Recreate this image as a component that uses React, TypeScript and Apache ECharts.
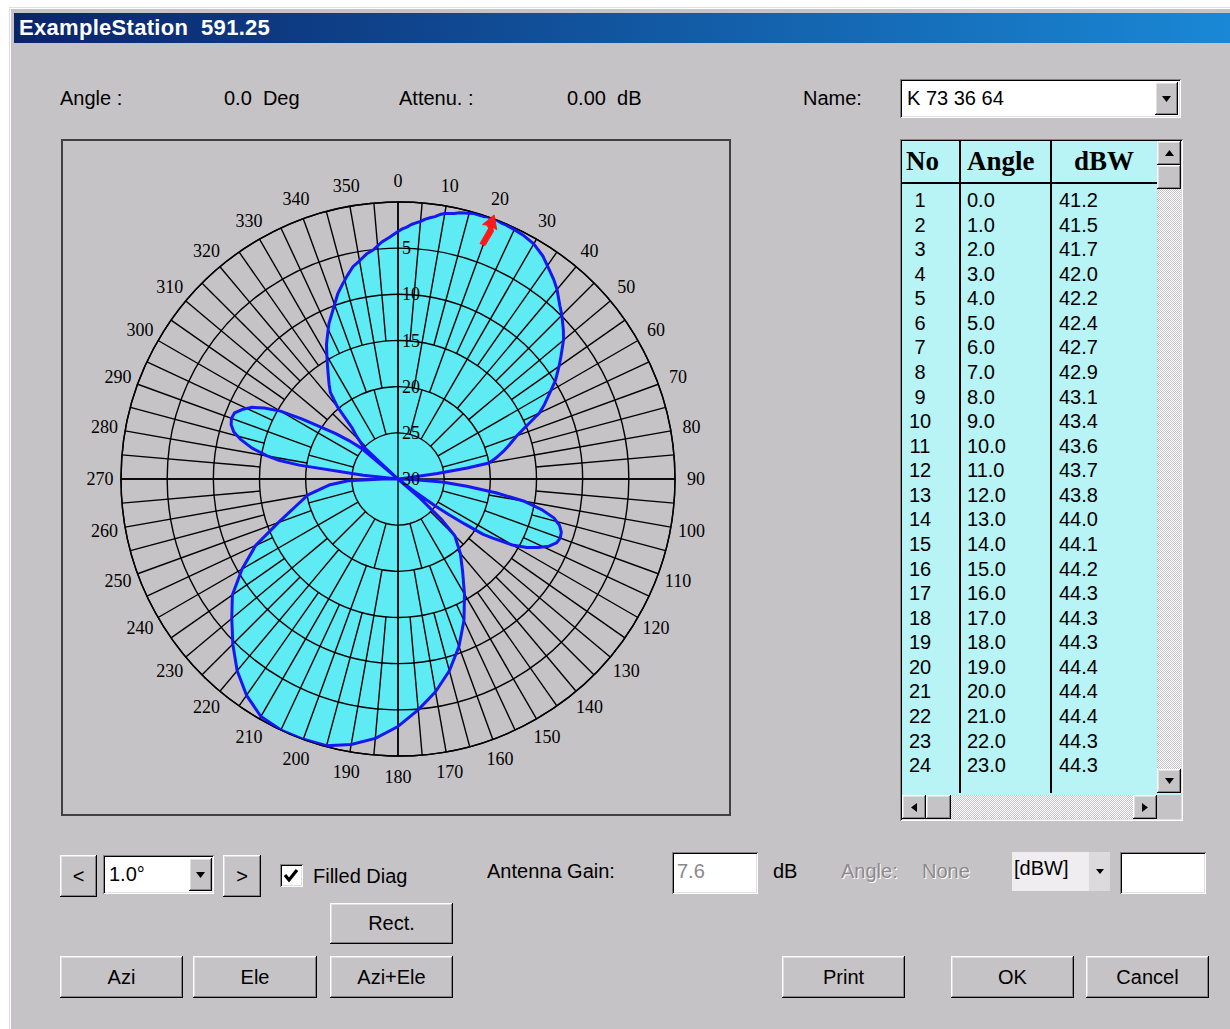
import React, { useEffect, useRef } from 'react';
import * as echarts from 'echarts';

// ---------------- data ----------------
const titleText = 'ExampleStation  591.25';

// antenna pattern: attenuation (dB) versus azimuth (deg)
const patternAngles = [
  0, 1, 2, 3, 4, 5, 6, 7, 8, 9, 10, 11, 12, 13, 14, 15, 16, 17, 18, 19, 20, 21, 22, 23,
  25, 27, 30, 33, 35, 38, 40, 43, 45, 48,
  50, 53, 55, 58, 60, 63, 65, 68, 70, 73,
  75, 78, 80, 81, 82, 83, 84, 90, 92, 94,
  96, 98, 100, 102, 104, 106, 108, 110, 112, 114,
  116, 118, 120, 122, 123, 124, 125, 126, 127, 128,
  129, 131, 133, 135, 140, 145, 150, 155, 160, 165,
  170, 175, 180, 185, 190, 195, 200, 205, 210, 215,
  220, 225, 230, 235, 240, 245, 250, 255, 260, 265,
  268, 270, 271, 274, 276, 278, 279, 280, 282, 284,
  286, 288, 290, 292, 294, 296, 298, 300, 302, 304,
  306, 308, 310, 311, 312, 313, 316, 318, 320, 322,
  324, 326, 328, 330, 332, 334, 336, 338, 340, 342,
  344, 346, 348, 350, 352, 354, 356, 358, 360,
];
const patternAtten = [
  3.2, 2.9, 2.7, 2.4, 2.2, 2.0, 1.7, 1.5, 1.3, 1.0, 0.8, 0.7, 0.6, 0.4, 0.3, 0.2, 0.1, 0.1, 0.1, 0.0, 0.0, 0.0, 0.1, 0.1,
  0.2, 0.3, 0.6, 1.2, 1.8, 2.6, 3.2, 4.3, 4.9, 5.9,
  6.6, 7.9, 8.7, 9.9, 10.9, 12.2, 13.1, 15.2, 16.3, 17.4,
  18.1, 19.2, 20.0, 22.4, 25.7, 28.9, 30, 30, 28.5, 25.2,
  22.5, 19.3, 16.1, 14.1, 12.6, 11.8, 11.4, 11.3, 11.5, 12.1,
  13.1, 14.2, 15.7, 17.9, 19.0, 21.3, 23.3, 25.1, 27.8, 30,
  30, 26.8, 23.5, 21.3, 19.5, 17.8, 15.6, 13.1, 10.7, 8.5,
  6.6, 4.9, 3.2, 1.8, 0.8, 0.1, 0.0, 0.0, 0.3, 1.4,
  2.9, 4.7, 6.5, 8.1, 10.5, 13.0, 16.2, 18.5, 20.1, 22.5,
  24.6, 28.4, 30, 30, 26.2, 19.2, 16.8, 15.6, 13.8, 12.5,
  11.5, 11.0, 10.8, 10.9, 11.5, 12.3, 13.6, 15.3, 17.7, 20.0,
  21.6, 23.2, 24.8, 30, 30, 24.9, 23.5, 22.6, 19.8, 18.1,
  17.3, 16.5, 15.6, 14.6, 13.5, 12.6, 11.6, 10.8, 9.9, 8.9,
  8.1, 7.3, 6.5, 6.0, 5.4, 5.0, 4.3, 3.8, 3.2,
];

const radiusMax = 30;
const radiusStep = 5;
const radiusLabelValues = [5, 10, 15, 20, 25, 30];
const angleLabelValues = [0, 10, 20, 30, 40, 50, 60, 70, 80, 90, 100, 110, 120, 130, 140, 150, 160, 170, 180, 190, 200, 210, 220, 230, 240, 250, 260, 270, 280, 290, 300, 310, 320, 330, 340, 350];
const maxGainAngle = 20;
const arrowTailAtten = 3.0;

// grid spokes: bands of attenuation with their angular spacing
const spokeBandOuter = [0, 15, 20];
const spokeBandInner = [15, 20, 25];
const spokeBandStep = [5, 10, 15];
const mainAxesAngles = [0, 90, 180, 270];

// table
const tableAngles = [0, 1, 2, 3, 4, 5, 6, 7, 8, 9, 10, 11, 12, 13, 14, 15, 16, 17, 18, 19, 20, 21, 22, 23];
const tableDbw = [41.2, 41.5, 41.7, 42.0, 42.2, 42.4, 42.7, 42.9, 43.1, 43.4, 43.6, 43.7, 43.8, 44.0, 44.1, 44.2, 44.3, 44.3, 44.3, 44.4, 44.4, 44.4, 44.3, 44.3];

// ---------------- styles ----------------
const BG = '#c6c3c6';
const UI = '"Liberation Sans", Arial, Helvetica, sans-serif';
const SERIF = '"Liberation Serif", "Times New Roman", serif';

const raisedShadow = 'inset -1px -1px #000, inset 1px 1px #fff, inset -2px -2px #848284, inset 2px 2px #dfdfdf';
const sunkenShadow = 'inset 1px 1px #848284, inset -1px -1px #fff, inset 2px 2px #000, inset -2px -2px #dfdfdf';

function Raised({ x, y, w, h, children, style }: any) {
  return (
    <div style={{ position: 'absolute', left: x, top: y, width: w, height: h, background: BG, boxShadow: raisedShadow, boxSizing: 'border-box', display: 'flex', alignItems: 'center', justifyContent: 'center', fontSize: 20, color: '#000', ...style }}>
      {children}
    </div>
  );
}

function Sunken({ x, y, w, h, children, style }: any) {
  return (
    <div style={{ position: 'absolute', left: x, top: y, width: w, height: h, background: '#fff', boxShadow: sunkenShadow, boxSizing: 'border-box', ...style }}>
      {children}
    </div>
  );
}

function Label({ x, y, text, style }: any) {
  return (
    <div style={{ position: 'absolute', left: x, top: y - 13, height: 26, lineHeight: '26px', fontSize: 20, whiteSpace: 'pre', color: '#000', ...style }}>{text}</div>
  );
}

function Tri({ dir = 'down', size = 9 }: any) {
  const h = Math.round(size / 2) + 1;
  if (dir === 'left' || dir === 'right') {
    const p = dir === 'left' ? `${h},0 ${h},${size} 0,${size / 2}` : `0,0 0,${size} ${h},${size / 2}`;
    return <svg width={h} height={size}><polygon points={p} fill="#000" /></svg>;
  }
  const p = dir === 'down' ? `0,0 ${size},0 ${size / 2},${h}` : `0,${h} ${size},${h} ${size / 2},0`;
  return <svg width={size} height={h}><polygon points={p} fill="#000" /></svg>;
}

// ---------------- chart ----------------
function PolarChart() {
  const ref = useRef<HTMLDivElement>(null);
  useEffect(() => {
    const chart = echarts.init(ref.current!, null, { renderer: 'svg' });
    const patternData = patternAngles.map((a, i) => [patternAtten[i], a]);

    const spokeData: number[][] = [];
    spokeBandStep.forEach((step, b) => {
      for (let a = 0; a < 360; a += step) spokeData.push([spokeBandOuter[b], a, spokeBandInner[b]]);
    });
    mainAxesAngles.forEach((a) => spokeData.push([0, a, radiusMax]));

    const option: any = {
      animation: false,
      backgroundColor: 'transparent',
      polar: { center: [398, 479], radius: 277 },
      angleAxis: {
        type: 'value', min: 0, max: 360, interval: 10, startAngle: 90, clockwise: true, z: 3,
        axisLine: { show: true, lineStyle: { color: '#000', width: 1.4 } },
        axisTick: { show: false },
        splitLine: { show: false },
        axisLabel: { show: false },
      },
      radiusAxis: {
        type: 'value', min: 0, max: radiusMax, interval: radiusStep, inverse: true, z: 3,
        axisLine: { show: false }, axisTick: { show: false }, axisLabel: { show: false },
        splitLine: { show: true, lineStyle: { color: '#000', width: 1.4 } },
      },
      series: [
        {
          type: 'line', coordinateSystem: 'polar', data: patternData, symbol: 'none', clip: false, silent: true, z: 1,
          lineStyle: { width: 0, opacity: 0 },
          areaStyle: { color: '#5eebf3', opacity: 1, origin: 'end' },
        },
        {
          type: 'custom', coordinateSystem: 'polar', data: spokeData, silent: true, z: 3,
          renderItem: (params: any, api: any) => {
            const p1 = api.coord([api.value(0), api.value(1)]);
            const p2 = api.coord([api.value(2), api.value(1)]);
            return { type: 'line', shape: { x1: p1[0], y1: p1[1], x2: p2[0], y2: p2[1] }, style: { stroke: '#000', lineWidth: 1.4 } };
          },
        },
        {
          type: 'line', coordinateSystem: 'polar', data: patternData, symbol: 'none', clip: false, silent: true, z: 5,
          lineStyle: { color: '#1717f2', width: 3, join: 'round' },
        },
        {
          type: 'custom', coordinateSystem: 'polar', data: radiusLabelValues.map((v) => [v, 0]), silent: true, z: 6,
          renderItem: (params: any, api: any) => {
            const p = api.coord([api.value(0), api.value(1)]);
            return { type: 'text', x: p[0] + 4, y: p[1], style: { text: String(api.value(0)), fill: '#000', font: `18px ${SERIF}`, align: 'left', verticalAlign: 'middle' } };
          },
        },
        {
          type: 'custom', coordinateSystem: 'polar', data: angleLabelValues.map((a) => [0, a]), silent: true, z: 6,
          renderItem: (params: any, api: any) => {
            const p = api.coord([api.value(0), api.value(1)]);
            const c = api.coord([radiusMax, api.value(1)]);
            const k = 298 / 277;
            return { type: 'text', x: c[0] + (p[0] - c[0]) * k, y: c[1] + (p[1] - c[1]) * k, style: { text: String(api.value(1)), fill: '#000', font: `18px ${SERIF}`, align: 'center', verticalAlign: 'middle' } };
          },
        },
        {
          type: 'custom', coordinateSystem: 'polar', data: [[0, maxGainAngle, arrowTailAtten]], silent: true, z: 7,
          renderItem: (params: any, api: any) => {
            const tip = api.coord([api.value(0), api.value(1)]);
            const tail = api.coord([api.value(2), api.value(1)]);
            const dx = tip[0] - tail[0], dy = tip[1] - tail[1];
            const L0 = Math.hypot(dx, dy) || 1;
            const ux = dx / L0, uy = dy / L0, nx = -uy, ny = ux;
            const L = L0 + 4;
            const P = (t: number, s: number) => [tail[0] + ux * t + nx * s, tail[1] + uy * t + ny * s];
            const pts = [P(L, 0), P(L - 13, 7.5), P(L - 12, 3), P(L * 0.5, 5), P(0, 2), P(0, -3.5), P(L * 0.55, -0.5), P(L - 12, -3.5), P(L - 13, -7.5)];
            return { type: 'polygon', shape: { points: pts }, style: { fill: '#ff1a1a', stroke: '#ff1a1a', lineWidth: 1 } };
          },
        },
      ],
    };
    chart.setOption(option);
    return () => chart.dispose();
  }, []);
  return <div ref={ref} style={{ position: 'absolute', left: 0, top: 0, width: 1230, height: 1029 }} />;
}

// ---------------- app ----------------
export default function App() {
  const rowY = (i: number) => 200 + i * 24.57;
  return (
    <div style={{ position: 'fixed', left: 0, top: 0, width: 1230, height: 1029, overflow: 'hidden', background: '#fff', fontFamily: UI }}>
      {/* dialog body */}
      <div style={{ position: 'absolute', left: 9, top: 7, width: 1221, height: 1022, background: BG, boxShadow: 'inset 1px 1px #dfdfdf, inset 2px 2px #fff' }} />
      {/* title bar */}
      <div style={{ position: 'absolute', left: 14, top: 13, width: 1216, height: 30, background: 'linear-gradient(to right, #0a246a, #1a88d6)' }} />
      <div style={{ position: 'absolute', left: 19, top: 14, height: 28, lineHeight: '28px', color: '#fff', fontWeight: 'bold', fontSize: 22, letterSpacing: 0.3, whiteSpace: 'pre', fontFamily: UI }}>{titleText}</div>

      {/* top labels */}
      <Label x={60} y={98} text="Angle :" />
      <Label x={224} y={98} text="0.0  Deg" />
      <Label x={399} y={98} text="Attenu. :" />
      <Label x={567} y={98} text="0.00  dB" />
      <Label x={803} y={98} text="Name:" />
      <Sunken x={900} y={79} w={281} h={39}>
        <div style={{ position: 'absolute', left: 7, top: 6, lineHeight: '26px', fontSize: 20 }}>K 73 36 64</div>
      </Sunken>
      <Raised x={1155} y={82} w={23} h={33}><Tri dir="down" size={9} /></Raised>

      {/* plot frame */}
      <div style={{ position: 'absolute', left: 61, top: 139, width: 670, height: 677, border: '2px solid #424142', boxSizing: 'border-box' }} />

      {/* table */}
      <div style={{ position: 'absolute', left: 900, top: 139, width: 283, height: 682, background: '#b8f4f5', boxShadow: sunkenShadow, boxSizing: 'border-box' }} />
      <div style={{ position: 'absolute', left: 906, top: 141, lineHeight: '40px', fontFamily: SERIF, fontWeight: 'bold', fontSize: 27 }}>No</div>
      <div style={{ position: 'absolute', left: 967, top: 141, lineHeight: '40px', fontFamily: SERIF, fontWeight: 'bold', fontSize: 27 }}>Angle</div>
      <div style={{ position: 'absolute', left: 1074, top: 141, lineHeight: '40px', fontFamily: SERIF, fontWeight: 'bold', fontSize: 27 }}>dBW</div>
      <div style={{ position: 'absolute', left: 902, top: 182, width: 255, height: 2, background: '#000' }} />
      <div style={{ position: 'absolute', left: 959, top: 141, width: 2, height: 652, background: '#000' }} />
      <div style={{ position: 'absolute', left: 1050, top: 141, width: 2, height: 652, background: '#000' }} />
      {tableAngles.map((a, i) => (
        <React.Fragment key={i}>
          <div style={{ position: 'absolute', left: 903, width: 34, top: rowY(i) - 12, lineHeight: '24px', fontSize: 20, textAlign: 'center' }}>{i + 1}</div>
          <div style={{ position: 'absolute', left: 967, top: rowY(i) - 12, lineHeight: '24px', fontSize: 20 }}>{a.toFixed(1)}</div>
          <div style={{ position: 'absolute', left: 1059, top: rowY(i) - 12, lineHeight: '24px', fontSize: 20 }}>{tableDbw[i].toFixed(1)}</div>
        </React.Fragment>
      ))}
      {/* vertical scrollbar */}
      <div style={{ position: 'absolute', left: 1157, top: 141, width: 24, height: 652, background: 'repeating-conic-gradient(#ffffff 0% 25%, #c6c3c6 0% 50%) 0 0 / 2px 2px' }} />
      <Raised x={1157} y={141} w={24} h={24}><Tri dir="up" size={9} /></Raised>
      <Raised x={1157} y={165} w={24} h={24} />
      <Raised x={1157} y={769} w={24} h={24}><Tri dir="down" size={9} /></Raised>
      {/* horizontal scrollbar */}
      <div style={{ position: 'absolute', left: 902, top: 795, width: 255, height: 24, background: 'repeating-conic-gradient(#ffffff 0% 25%, #c6c3c6 0% 50%) 0 0 / 2px 2px' }} />
      <Raised x={902} y={795} w={24} h={24}><Tri dir="left" size={9} /></Raised>
      <Raised x={926} y={795} w={25} h={24} />
      <Raised x={1133} y={795} w={24} h={24}><Tri dir="right" size={9} /></Raised>
      <div style={{ position: 'absolute', left: 1157, top: 795, width: 24, height: 24, background: BG }} />

      {/* bottom controls */}
      <Raised x={60} y={855} w={37} h={42}>&lt;</Raised>
      <Sunken x={103} y={855} w={111} h={39}>
        <div style={{ position: 'absolute', left: 6, top: 6, lineHeight: '26px', fontSize: 20 }}>1.0°</div>
      </Sunken>
      <Raised x={189} y={858} w={23} h={33}><Tri dir="down" size={9} /></Raised>
      <Raised x={223} y={855} w={38} h={42}>&gt;</Raised>
      <Sunken x={280} y={864} w={23} h={23}>
        <svg width={23} height={23} style={{ position: 'absolute', left: 0, top: 0 }}>
          <polyline points="5,11 9,16 17,6" fill="none" stroke="#000" strokeWidth={3.2} />
        </svg>
      </Sunken>
      <Label x={313} y={876} text="Filled Diag" />
      <Raised x={330} y={903} w={123} h={41}>Rect.</Raised>
      <Raised x={60} y={956} w={123} h={42}>Azi</Raised>
      <Raised x={193} y={956} w={124} h={42}>Ele</Raised>
      <Raised x={330} y={956} w={123} h={42}>Azi+Ele</Raised>

      <Label x={487} y={871} text="Antenna Gain:" />
      <Sunken x={672} y={852} w={86} h={42}>
        <div style={{ position: 'absolute', left: 5, top: 6, lineHeight: '26px', fontSize: 20, color: '#8a888a' }}>7.6</div>
      </Sunken>
      <Label x={773} y={871} text="dB" />
      <Label x={841} y={871} text="Angle:" style={{ color: '#8c8a8c', textShadow: '1px 1px #fff' }} />
      <Label x={922} y={871} text="None" style={{ color: '#8c8a8c', textShadow: '1px 1px #fff' }} />
      <div style={{ position: 'absolute', left: 1012, top: 852, width: 98, height: 39, background: '#efedef' }} />
      <div style={{ position: 'absolute', left: 1089, top: 852, width: 21, height: 39, background: '#dcdadc', display: 'flex', alignItems: 'center', justifyContent: 'center' }}><Tri dir="down" size={8} /></div>
      <Label x={1014} y={868} text="[dBW]" />
      <Sunken x={1120} y={852} w={86} h={42} />

      <Raised x={782} y={956} w={123} h={42}>Print</Raised>
      <Raised x={951} y={956} w={123} h={42}>OK</Raised>
      <Raised x={1086} y={956} w={123} h={42}>Cancel</Raised>

      <PolarChart />
    </div>
  );
}
